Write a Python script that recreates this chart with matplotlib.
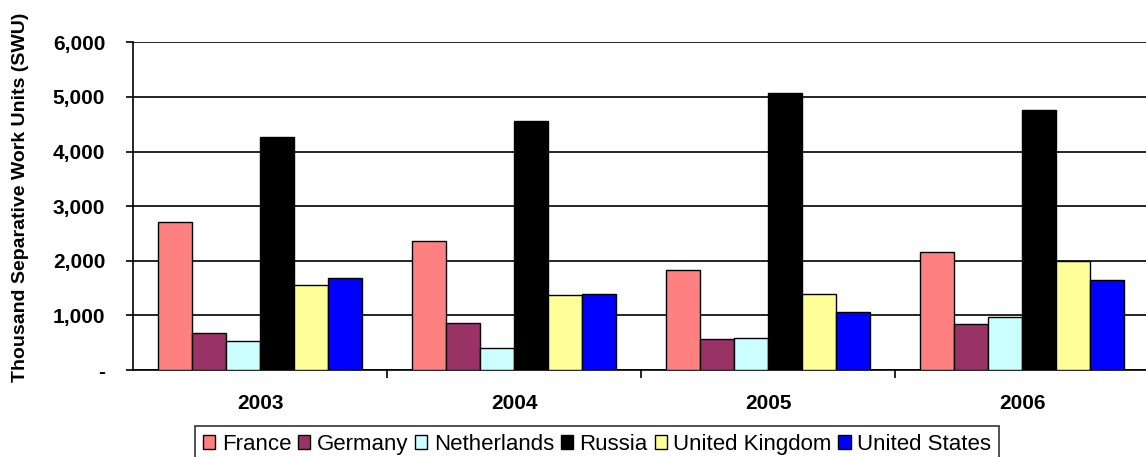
import matplotlib
matplotlib.use("Agg")
import matplotlib.pyplot as plt
import numpy as np
from matplotlib.ticker import FuncFormatter, FixedLocator

years = ["2003", "2004", "2005", "2006"]
countries = ["France", "Germany", "Netherlands", "Russia", "United Kingdom", "United States"]

france = [2705, 2357, 1837, 2161]
germany = [672, 866, 568, 837]
netherlands = [537, 409, 580, 965]
russia = [4262, 4560, 5079, 4756]
united_kingdom = [1562, 1374, 1386, 1996]
united_states = [1679, 1386, 1068, 1648]

colors = ["#FF8080", "#993366", "#CCFFFF", "#000000", "#FFFF99", "#0000FF"]

plt.rcParams["font.family"] = ["Liberation Sans", "DejaVu Sans"]

fig = plt.figure(figsize=(11.46, 4.57), dpi=100)
ax = fig.add_axes([133 / 1146, 87 / 457, 1016 / 1146, 327.7 / 457])

series = [france, germany, netherlands, russia, united_kingdom, united_states]
x = np.arange(len(years))
width = 0.8 / len(series)
for j, (vals, name, c) in enumerate(zip(series, countries, colors)):
    ax.bar(x + (j - 2.5) * width, vals, width, color=c, edgecolor="black",
           linewidth=1.0, label=name, zorder=3)

ax.set_xlim(-0.5, 3.5)
ax.set_ylim(0, 6000)
ax.set_yticks(range(0, 6001, 1000))
ax.yaxis.set_major_formatter(FuncFormatter(lambda v, p: "-" if v == 0 else f"{int(v):,}"))
ax.grid(axis="y", color="black", linewidth=1.2, zorder=0)

ax.set_xticks(x)
ax.set_xticklabels(years)
ax.xaxis.set_minor_locator(FixedLocator([0.5, 1.5, 2.5]))
ax.tick_params(axis="x", which="major", length=0, pad=17)
ax.tick_params(axis="x", which="minor", length=6, width=1.2, direction="out")
ax.tick_params(axis="y", length=5, width=1.2, pad=15)
for lbl in ax.get_xticklabels() + ax.get_yticklabels():
    lbl.set_fontweight("bold")
    lbl.set_fontsize(15)

for s in ["top", "right"]:
    ax.spines[s].set_visible(False)
for s in ["left", "bottom"]:
    ax.spines[s].set_linewidth(1.2)

fig.text(21 / 1146, 1 - 197 / 457, "Thousand Separative Work Units (SWU)",
         rotation=90, ha="center", va="center", fontweight="bold", fontsize=14)

# legend box sits low, its lower edge runs off the bottom of the figure
leg = fig.legend(loc="upper left", bbox_to_anchor=(195 / 1146, 1 - 426 / 457),
                 ncol=6, frameon=True, fancybox=False, edgecolor="black",
                 fontsize=16, handlelength=0.55, handleheight=0.55,
                 handletextpad=0.3, columnspacing=0.3, borderpad=0.35,
                 borderaxespad=0)
leg.get_frame().set_linewidth(1.2)

fig.savefig("out.png", dpi=100)
